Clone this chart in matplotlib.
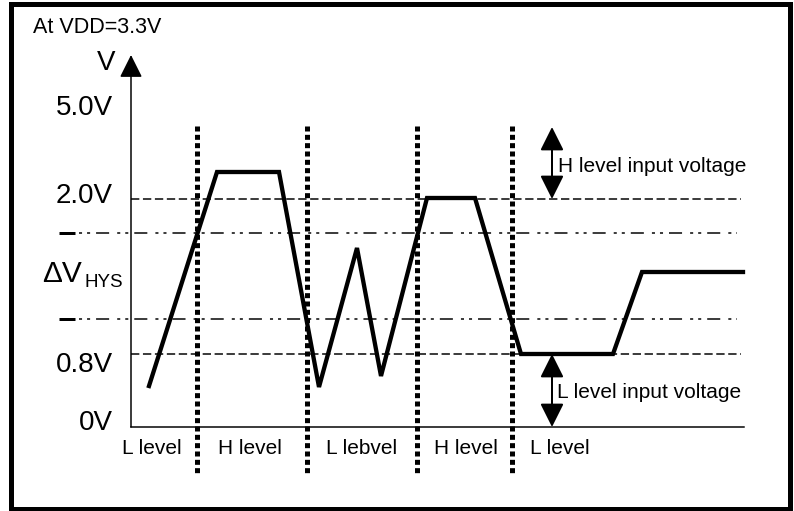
import matplotlib
matplotlib.use('Agg')
import matplotlib.pyplot as plt
from matplotlib.patches import Rectangle

plt.rcParams['font.family'] = ['Liberation Sans', 'DejaVu Sans']
plt.rcParams['lines.scale_dashes'] = False

# drawing space is the picture itself: x to the right, y downwards (pixels)
PT = 0.72  # points per pixel at 100 dpi

# input waveform (time, level)
wave_x = [149, 217, 279, 319, 357, 381, 427, 475, 521, 613, 642, 743]
wave_y = [386, 172, 172, 387, 248, 376, 198, 198, 354, 354, 272, 272]

# reference levels
level_names = ['5.0V', '2.0V', '0.8V', '0V']
level_y = [106, 199, 354, 427]
hys_y = [233, 319]

# region boundaries and names
bound_x = [197, 307, 417, 512]
region_names = ['L level', 'H level', 'L lebvel', 'H level', 'L level']
region_x = [122, 218, 326, 434, 530]

x0, x1 = 131, 741

fig = plt.figure(figsize=(7.94, 5.11), dpi=100)
ax = fig.add_axes([0, 0, 1, 1])
ax.set_xlim(0, 794)
ax.set_ylim(511, 0)
ax.axis('off')

# outer frame
ax.add_patch(Rectangle((10.5, 4.5), 779, 504.5, fill=False, ec='black', lw=5 * PT))

# axes: vertical with arrow, horizontal 0V base
ax.annotate('', xy=(x0, 55), xytext=(x0, level_y[3]),
            arrowprops=dict(arrowstyle='-|>,head_length=1.0,head_width=0.5',
                            mutation_scale=14, lw=1.5 * PT, color='black',
                            shrinkA=0, shrinkB=0))
ax.plot([x0, 744], [level_y[3]] * 2, color='black', lw=1.5 * PT)

# threshold dashed lines
for y in level_y[1:3]:
    ax.plot([x0, x1], [y, y], color='black', lw=1.5 * PT, dashes=(6, 2.6))

# hysteresis dash-dot-dot lines
for y in hys_y:
    ax.plot([59, 75], [y, y], color='black', lw=3 * PT, solid_capstyle='butt')
    ax.plot([79, 737], [y, y], color='black', lw=1.5 * PT,
            dashes=(2.2, 3.6, 2.2, 4.3, 9.4, 5.8))

# region boundaries
for x in bound_x:
    ax.plot([x, x], [126, 475], color='black', lw=5 * PT,
            dashes=(3.6, 2.4), dash_capstyle='butt')

# waveform
ax.plot(wave_x, wave_y, color='black', lw=4.3 * PT, solid_joinstyle='miter')

# input voltage range arrows
for top, bot in [(127, 199), (354, 427)]:
    ax.annotate('', xy=(552, top), xytext=(552, bot),
                arrowprops=dict(arrowstyle='<|-|>,head_length=1.0,head_width=0.5',
                                mutation_scale=14.5, lw=2 * PT, color='black',
                                shrinkA=0, shrinkB=0))
ax.text(558, 172, 'H level input voltage', fontsize=15, va='baseline')
ax.text(557, 398, 'L level input voltage', fontsize=15, va='baseline')

# labels
ax.text(33, 33, 'At VDD=3.3V', fontsize=15.5, va='baseline')
ax.text(106, 70, 'V', fontsize=20, va='baseline', ha='center')
for name, base in zip(level_names, [115, 203, 372, 430]):
    ax.text(113, base, name, fontsize=20, va='baseline', ha='right')
ax.text(42, 282, '\u0394V', fontsize=21.5, va='baseline')
ax.text(85, 287, 'HYS', fontsize=13.5, va='baseline')

for name, x in zip(region_names, region_x):
    ax.text(x, 454, name, fontsize=15, va='baseline')

fig.savefig('out.png', dpi=100)
